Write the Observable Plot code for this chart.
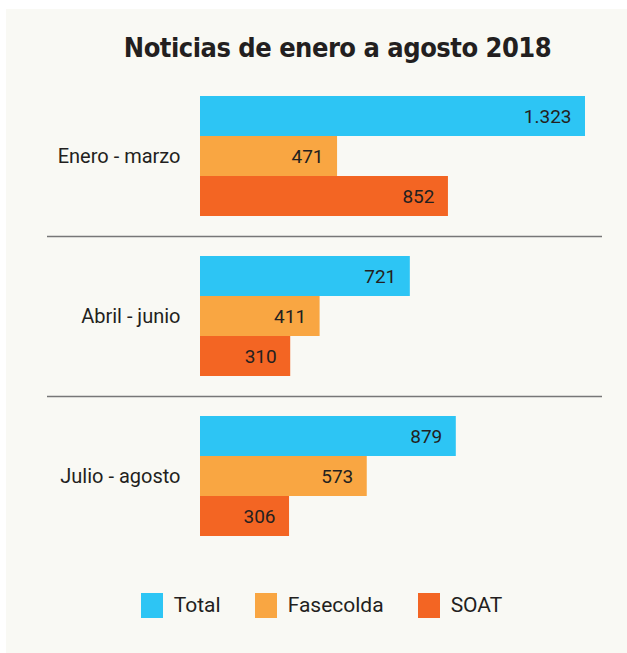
<!DOCTYPE html>
<html>
<head>
<meta charset="utf-8">
<script src="https://cdn.jsdelivr.net/npm/d3@7"></script>
<script src="https://cdn.jsdelivr.net/npm/@observablehq/plot@0.6"></script>
<style>
  html, body { margin: 0; padding: 0; background: #ffffff; }
  #panel { position: absolute; left: 6px; top: 9px; width: 621px; height: 644px; background: #f9f9f4; overflow: hidden; }
  #title { position: absolute; left: 0; top: 21px; width: 621px; box-sizing: border-box; padding-left: 42px; text-align: center;
           font-family: "DejaVu Sans Condensed", "DejaVu Sans", sans-serif; font-stretch: condensed; font-weight: bold; font-size: 27px; letter-spacing: -0.5px; line-height: 36px; color: #231f20; }
  #chart { position: absolute; left: 0; top: 81px; line-height: 0; }
  #legend { position: absolute; left: 0; top: 579px; width: 621px; }
  div.lg-swatches { font-family: Roboto, sans-serif !important; font-size: 21px !important; color: #231f20; margin: 0 !important; }
  div.lg-swatches-wrap { justify-content: center; padding-left: 10px; min-height: 34px; }
  span.lg-swatch { margin-right: 34px !important; }
  span.lg-swatch:last-child { margin-right: 0 !important; }
  span.lg-swatch > svg { margin-right: 11px !important; }
</style>
</head>
<body>
<div id="panel">
  <div id="title">Noticias de enero a agosto 2018</div>
  <div id="chart"></div>
  <div id="legend"></div>
</div>
<script>
const groups = ["Enero - marzo", "Abril - junio", "Julio - agosto"];
const series = ["Total", "Fasecolda", "SOAT"];
const totalValues = [1323, 721, 879];
const fasecoldaValues = [471, 411, 573];
const soatValues = [852, 310, 306];
const seriesColors = ["#2dc5f4", "#f9a642", "#f36523"];

const valuesBySeries = [totalValues, fasecoldaValues, soatValues];
const rows = [];
groups.forEach((g, gi) => {
  series.forEach((s, si) => {
    rows.push({group: g, serie: s, key: g + "|" + s, value: valuesBySeries[si][gi]});
  });
});
const yDomain = [];
const separators = [];
groups.forEach((g, gi) => {
  series.forEach(s => yDomain.push(g + "|" + s));
  if (gi < groups.length - 1) { yDomain.push("sep" + gi); separators.push("sep" + gi); }
});
const labelRows = groups.map(g => ({group: g, key: g + "|" + series[1], zero: 0}));

const fmt = d3.formatLocale({decimal: ",", thousands: ".", grouping: [3], currency: ["$", ""]}).format(",");
const font = "Roboto, sans-serif";

const chart = Plot.plot({
  width: 621,
  height: 460,
  marginLeft: 41,
  marginRight: 25,
  marginTop: 6,
  marginBottom: 14,
  style: {background: "transparent", fontFamily: font, color: "#231f20"},
  x: {domain: [0, 1323], range: [194, 579], axis: null},
  y: {domain: yDomain, padding: 0, round: true, axis: null},
  color: {domain: series, range: seriesColors},
  marks: [
    Plot.ruleY(separators, {stroke: "#777777", strokeWidth: 1.6}),
    Plot.barX(rows, {x: "value", y: "key", fill: "serie"}),
    Plot.text(rows, {x: "value", y: "key", text: d => fmt(d.value), textAnchor: "end", dx: -14, fontSize: 19, fill: "#231f20"}),
    Plot.text(labelRows, {x: "zero", y: "key", text: "group", textAnchor: "end", dx: -20, fontSize: 20, fill: "#231f20"})
  ]
});
document.getElementById("chart").appendChild(chart);

const legend = Plot.legend({
  color: {domain: series, range: seriesColors},
  legend: "swatches",
  swatchWidth: 22,
  swatchHeight: 25,
  className: "lg"
});
document.getElementById("legend").appendChild(legend);
</script>
</body>
</html>
